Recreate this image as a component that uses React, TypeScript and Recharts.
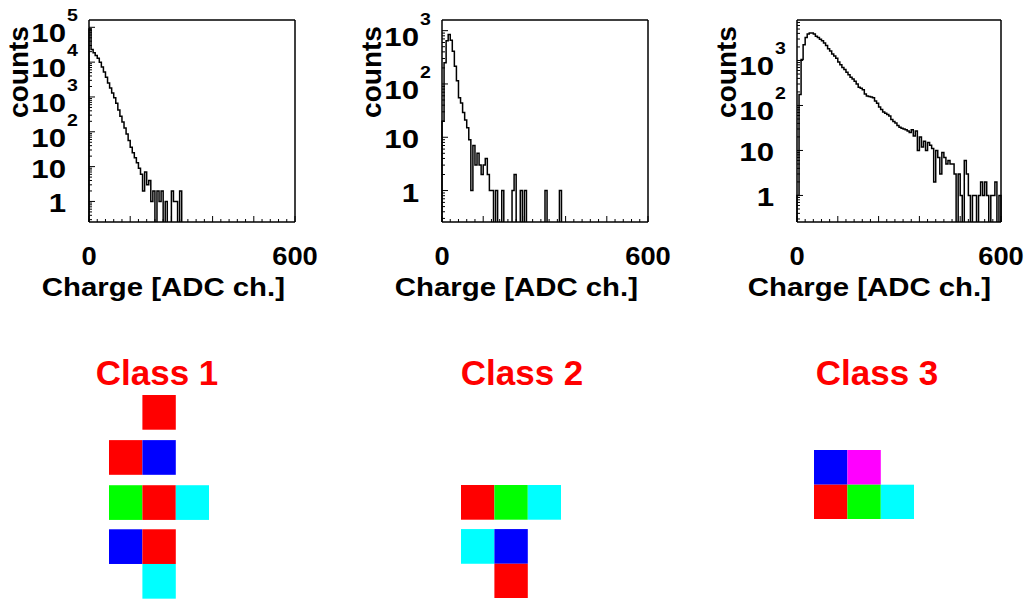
import React from 'react';
import { LineChart, Line, XAxis, YAxis, ScatterChart, Scatter } from 'recharts';

// charge spectra, 6 ADC channels per bin from 0 to 600 (100 bins each)
const BIN_WIDTH = 6;

const CLASS1_COUNTS = [
  90000, 23000, 18600, 15500, 12900, 10000, 7200, 5200, 3700, 2500,
  1800, 1300, 950, 660, 420, 280, 190, 128, 87, 56,
  36, 25, 18, 13, 9, 6, 2, 7, 3, 4,
  1, 2, 0, 2, 1, 2, 0, 1, 0, 0,
  2, 1, 1, 0, 2, 0, 0, 0, 0, 0,
  0, 0, 0, 0, 0, 0, 0, 0, 0, 0,
  0, 0, 0, 0, 0, 0, 0, 0, 0, 0,
  0, 0, 0, 0, 0, 0, 0, 0, 0, 0,
  0, 0, 0, 0, 0, 0, 0, 0, 0, 0,
  0, 0, 0, 0, 0, 0, 0, 0, 0, 0,
];

const CLASS2_COUNTS = [
  20, 250, 650, 850, 660, 410, 215, 115, 55, 44,
  29, 21, 15, 9, 1, 7, 3, 5, 3, 2,
  3, 4, 2, 1, 1, 0, 1, 0, 0, 1,
  0, 0, 0, 0, 1, 2, 0, 0, 1, 0,
  1, 0, 0, 0, 0, 0, 0, 0, 0, 0,
  1, 0, 0, 0, 0, 0, 0, 1, 0, 0,
  0, 0, 0, 0, 0, 0, 0, 0, 0, 0,
  0, 0, 0, 0, 0, 0, 0, 0, 0, 0,
  0, 0, 0, 0, 0, 0, 0, 0, 0, 0,
  0, 0, 0, 0, 0, 0, 0, 0, 0, 0,
];

const CLASS3_COUNTS = [
  1, 175, 1050, 2250, 3250, 3900, 4100, 4100, 3900, 3450,
  3250, 2950, 2750, 2450, 2150, 1820, 1620, 1400, 1250, 1120,
  930, 800, 700, 630, 550, 480, 425, 390, 345, 300,
  255, 240, 225, 180, 163, 158, 155, 148, 125, 112,
  92, 81, 72, 67, 63, 58, 49, 44, 41, 36,
  33, 31, 30, 29, 27, 25, 29, 21, 27, 10,
  20, 12, 16, 10, 15, 13, 11, 2, 10, 7,
  3, 9, 7, 5, 6, 5, 5, 3, 0, 3,
  1, 0, 6, 3, 1, 0, 1, 1, 0, 1,
  2, 1, 2, 1, 0, 1, 1, 2, 0, 1,
];

const X_LABELED = [0, 600];
const X_TITLE = 'Charge [ADC ch.]';
const Y_TITLE = 'counts';
const CLASS_TITLES = ['Class 1', 'Class 2', 'Class 3'];

// hit patterns: col / row of each cell, kind = colour code
const CLASS1_CELLS = [
  { col: 1, row: 0, kind: 'r' },
  { col: 0, row: 1.3, kind: 'r' },
  { col: 1, row: 1.3, kind: 'b' },
  { col: 0, row: 2.6, kind: 'g' },
  { col: 1, row: 2.6, kind: 'r' },
  { col: 2, row: 2.6, kind: 'c' },
  { col: 0, row: 3.87, kind: 'b' },
  { col: 1, row: 3.87, kind: 'r' },
  { col: 1, row: 4.87, kind: 'c' },
];
const CLASS2_CELLS = [
  { col: 0, row: 0, kind: 'r' },
  { col: 1, row: 0, kind: 'g' },
  { col: 2, row: 0, kind: 'c' },
  { col: 0, row: 1.27, kind: 'c' },
  { col: 1, row: 1.27, kind: 'b' },
  { col: 1, row: 2.27, kind: 'r' },
];
const CLASS3_CELLS = [
  { col: 0, row: 0, kind: 'b' },
  { col: 1, row: 0, kind: 'm' },
  { col: 0, row: 1, kind: 'r' },
  { col: 1, row: 1, kind: 'g' },
  { col: 2, row: 1, kind: 'c' },
];

const CELL_COLORS: Record<string, string> = {
  r: '#ff0000',
  g: '#00ff00',
  b: '#0000ff',
  c: '#00ffff',
  m: '#ff00ff',
};

const FONT = '"Liberation Sans", Arial, Helvetica, sans-serif';
const FLOOR = 0.01; // empty bins fall below the axis and get clipped
const Y_MIN = 0.257;
const PLOT_TOP = 20;
const PLOT_BOTTOM = 222;
const Y_AXIS_W = 60;
const X_AXIS_H = 40;
const CELL_W = 33.4;
const CELL_H = 34.7;

const toSteps = (counts: number[]) => {
  const pts = [{ x: 0, y: FLOOR }];
  counts.forEach((c, i) => pts.push({ x: i * BIN_WIDTH, y: c > 0 ? c : FLOOR }));
  pts.push({ x: counts.length * BIN_WIDTH, y: FLOOR });
  return pts;
};

const logTicks = (max: number) => {
  const out: number[] = [];
  for (let k = -1; k <= 6; k++) {
    for (let m = 1; m <= 9; m++) {
      const v = m * Math.pow(10, k);
      if (v >= Y_MIN && v <= max) out.push(v);
    }
  }
  return out;
};

const X_TICKS: number[] = [];
for (let v = 0; v <= 600; v += 24) X_TICKS.push(v);

const labelStyle = { fontFamily: FONT, fontWeight: 700, fill: '#000' };

const YTick = (props: any) => {
  const { x, y, payload } = props;
  const lg = Math.log10(payload.value);
  const exp = Math.round(lg);
  const major = Math.abs(lg - exp) < 1e-6;
  let label = null;
  if (major && exp <= 1) {
    label = (
      <text transform={`translate(${x - 23},${y + 11}) scale(1.2,1)`} textAnchor="end" fontSize={26} {...labelStyle}>
        {exp === 0 ? '1' : '10'}
      </text>
    );
  } else if (major) {
    label = (
      <g>
        <text transform={`translate(${x - 23},${y + 15}) scale(1.2,1)`} textAnchor="end" fontSize={26} {...labelStyle}>
          10
        </text>
        <text transform={`translate(${x - 22},${y - 6}) scale(1.15,1)`} textAnchor="start" fontSize={17} {...labelStyle}>
          {exp}
        </text>
      </g>
    );
  }
  return (
    <g>
      <line x1={x} x2={x + (major ? 6 : 3)} y1={y} y2={y} stroke="#000" strokeWidth={1} />
      {label}
    </g>
  );
};

const XTick = (props: any) => {
  const { x, y, payload } = props;
  const v = payload.value;
  const major = v % 120 === 0;
  return (
    <g>
      <line x1={x} x2={x} y1={y} y2={y - (major ? 6 : 3)} stroke="#000" strokeWidth={1} />
      {X_LABELED.includes(v) && (
        <text transform={`translate(${x},${y + 43}) scale(1.05,1)`} textAnchor="middle" fontSize={26} {...labelStyle}>
          {v}
        </text>
      )}
    </g>
  );
};

const PANELS = [
  { counts: CLASS1_COUNTS, left: 0, plotLeft: 89, plotWidth: 206, yMax: 1.62e5 },
  { counts: CLASS2_COUNTS, left: 352, plotLeft: 442, plotWidth: 206, yMax: 1585 },
  { counts: CLASS3_COUNTS, left: 707, plotLeft: 797, plotWidth: 204, yMax: 7940 },
];

const SpectrumPanel = ({ counts, left, plotLeft, plotWidth, yMax }: any) => {
  const width = 320;
  const height = 310;
  const inner = plotLeft - left; // plot left inside the svg
  const plotRight = inner + plotWidth;
  const data = toSteps(counts);
  return (
    <div style={{ position: 'absolute', left, top: 0 }}>
      <LineChart
        width={width}
        height={height}
        data={data}
        margin={{
          top: PLOT_TOP - 1,
          left: inner - Y_AXIS_W,
          right: width - plotRight - 1,
          bottom: height - PLOT_BOTTOM - X_AXIS_H,
        }}
      >
        <XAxis
          dataKey="x"
          type="number"
          domain={[0, 600]}
          ticks={X_TICKS}
          interval={0}
          height={X_AXIS_H}
          tickSize={0}
          tickMargin={0}
          tickLine={false}
          axisLine={{ stroke: '#000', strokeWidth: 1.5 }}
          tick={XTick}
          label={() => (
            <text
              transform={`translate(${plotRight - 10},${PLOT_BOTTOM + 74}) scale(1.13,1)`}
              textAnchor="end"
              fontSize={26}
              {...labelStyle}
            >
              {X_TITLE}
            </text>
          )}
        />
        <XAxis
          xAxisId="top"
          orientation="top"
          type="number"
          domain={[0, 600]}
          height={1}
          tick={false}
          tickLine={false}
          axisLine={{ stroke: '#000', strokeWidth: 1.5 }}
        />
        <YAxis
          type="number"
          scale="log"
          domain={[Y_MIN, yMax]}
          allowDataOverflow
          ticks={logTicks(yMax)}
          interval={0}
          width={Y_AXIS_W}
          tickSize={0}
          tickMargin={0}
          tickLine={false}
          axisLine={{ stroke: '#000', strokeWidth: 1.5 }}
          tick={YTick}
          label={() => (
            <text
              transform={`translate(${inner - 61},72) rotate(-90)`}
              textAnchor="middle"
              fontSize={28}
              {...labelStyle}
            >
              {Y_TITLE}
            </text>
          )}
        />
        <YAxis
          yAxisId="right"
          orientation="right"
          type="number"
          domain={[0, 1]}
          width={1}
          tick={false}
          tickLine={false}
          axisLine={{ stroke: '#000', strokeWidth: 1.5 }}
        />
        <Line
          dataKey="y"
          type="stepAfter"
          stroke="#000"
          strokeWidth={1.5}
          dot={false}
          activeDot={false}
          isAnimationActive={false}
        />
      </LineChart>
    </div>
  );
};

const renderCell = (props: any) => {
  const { cx, cy, payload } = props;
  return (
    <rect x={cx - CELL_W / 2} y={cy - CELL_H / 2} width={CELL_W} height={CELL_H} fill={CELL_COLORS[payload.kind]} />
  );
};

const PATTERNS = [
  { cells: CLASS1_CELLS, left: 109, top: 395, rows: 5.87 },
  { cells: CLASS2_CELLS, left: 461, top: 485, rows: 3.27 },
  { cells: CLASS3_CELLS, left: 814, top: 450, rows: 2 },
];

const HitPattern = ({ cells, left, top, rows }: any) => {
  const data = cells.map((c: any) => ({ x: c.col + 0.5, y: c.row + 0.5, kind: c.kind }));
  return (
    <div style={{ position: 'absolute', left, top }}>
      <ScatterChart width={3 * CELL_W} height={rows * CELL_H} margin={{ top: 0, right: 0, bottom: 0, left: 0 }}>
        <XAxis dataKey="x" type="number" domain={[0, 3]} hide />
        <YAxis dataKey="y" type="number" domain={[0, rows]} reversed hide />
        <Scatter data={data} shape={renderCell} isAnimationActive={false} />
      </ScatterChart>
    </div>
  );
};

const TITLE_X = [157, 522, 877];

export default function App() {
  return (
    <div style={{ position: 'absolute', left: 0, top: 0, width: 1027, height: 603, background: '#fff', overflow: 'hidden' }}>
      {PANELS.map((p, i) => (
        <SpectrumPanel key={i} {...p} />
      ))}
      <svg width={1027} height={603} style={{ position: 'absolute', left: 0, top: 0, pointerEvents: 'none' }}>
        {CLASS_TITLES.map((t, i) => (
          <text key={t} x={TITLE_X[i]} y={385} textAnchor="middle" fontFamily={FONT} fontWeight={700} fontSize={35} fill="#ff0000">
            {t}
          </text>
        ))}
      </svg>
      {PATTERNS.map((p, i) => (
        <HitPattern key={i} {...p} />
      ))}
    </div>
  );
}
